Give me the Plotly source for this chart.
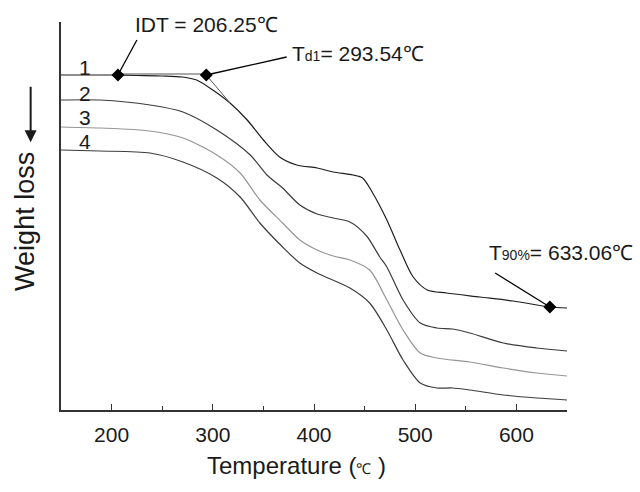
import plotly.graph_objects as go

# ---- data (temperature in °C, relative weight in arbitrary units; curves offset) ----
t1 = [150, 200, 225, 250, 270, 284, 300, 317, 334, 350, 366, 383, 403, 419, 438.5, 448,
      458, 472, 485, 498, 512, 531, 564, 597, 633, 650]
w1 = [335, 335, 334.5, 334, 333, 330, 320, 307, 290, 270, 253, 245, 242, 238, 235, 232,
      217, 190, 160, 133, 120, 117, 113, 109, 103, 102]

t2 = [150, 188.5, 238, 270.5, 304, 337, 353.5, 369, 386, 403, 419, 435.5, 452, 465, 472,
      488, 505, 521.5, 537, 554, 587, 620, 650]
w2 = [310, 310, 305, 298, 280, 255, 235, 222, 205, 196, 192, 188, 174, 153, 143,
      110, 87, 82, 81, 77, 67, 62, 59]

t3 = [150, 188.5, 238, 270.5, 304, 327, 346.5, 369, 386, 403, 419, 435.5, 455, 472, 488,
      505, 521.5, 554, 587, 620, 650]
w3 = [283, 282, 279, 272, 255, 237, 210, 187, 170, 160, 154, 150, 140, 110, 80,
      57, 52, 48, 42, 37, 34]

t4 = [150, 188.5, 238, 270.5, 304, 327, 346.5, 369, 386, 403, 435.5, 455, 472, 488, 505,
      521.5, 537, 554, 587, 620, 650]
w4 = [260, 259, 257, 248, 232, 213, 187, 163, 147, 137, 122, 107, 80, 50, 27,
      22, 22, 20, 15, 12, 10]

curve_labels = ["1", "2", "3", "4"]
curve_colors = ["#1e1e1e", "#3c3c3c", "#959595", "#3c3c3c"]

idt_t, idt_w = 206.25, 335
td1_t, td1_w = 293.54, 335
t90_t, t90_w = 633.06, 103
tangent_end = (317, 307)

xticks = [200, 300, 400, 500, 600]

FONT = "Liberation Sans, Arial, Helvetica, sans-serif"

fig = go.Figure()
for t, w, c, name in zip([t1, t2, t3, t4], [w1, w2, w3, w4], curve_colors, curve_labels):
    fig.add_trace(go.Scatter(x=t, y=w, mode="lines", name=name,
                             line=dict(color=c, width=1.2, shape="spline", smoothing=0.8),
                             showlegend=False))

# tangent construction lines
fig.add_trace(go.Scatter(x=[idt_t, td1_t], y=[idt_w + 1, td1_w + 1], mode="lines",
                         line=dict(color="#555555", width=1), showlegend=False))
fig.add_trace(go.Scatter(x=[td1_t, tangent_end[0]], y=[td1_w, tangent_end[1]], mode="lines",
                         line=dict(color="#555555", width=1), showlegend=False))

# marker points
fig.add_trace(go.Scatter(x=[idt_t, td1_t, t90_t], y=[idt_w, td1_w, t90_w], mode="markers",
                         marker=dict(symbol="diamond", size=10, color="black"),
                         showlegend=False))

# leader lines
leaders = [((225, 370), (idt_t, idt_w)), ((373, 353), (td1_t, td1_w)), ((579, 137), (t90_t, t90_w))]
for (x0, y0), (x1, y1) in leaders:
    fig.add_shape(type="line", x0=x0, y0=y0, x1=x1, y1=y1, xref="x", yref="y",
                  line=dict(color="black", width=1.3))

anns = []
anns.append(dict(x=294, y=386, xref="x", yref="y", text="IDT = 206.25℃", showarrow=False,
                 font=dict(size=21, color="#1a1a1a", family=FONT), xanchor="center", yanchor="middle"))
anns.append(dict(x=376, y=357, xref="x", yref="y",
                 text="T<span style='font-size:14px'>d1</span>= 293.54℃", showarrow=False,
                 font=dict(size=21, color="#1a1a1a", family=FONT), xanchor="left", yanchor="middle"))
anns.append(dict(x=571, y=158, xref="x", yref="y",
                 text="T<span style='font-size:14px'>90%</span>= 633.06℃", showarrow=False,
                 font=dict(size=21, color="#1a1a1a", family=FONT), xanchor="left", yanchor="middle"))
for lab, yv in zip(curve_labels, [343, 317, 293, 269]):
    anns.append(dict(x=174, y=yv, xref="x", yref="y", text=lab, showarrow=False,
                     font=dict(size=21, color="#1a1a1a", family=FONT), xanchor="center", yanchor="middle"))

# axis titles
anns.append(dict(x=0.466, y=-0.142, xref="paper", yref="paper",
                 text="Temperature (<span style='font-size:15px'>℃</span> )", showarrow=False,
                 font=dict(size=24, color="#1a1a1a", family=FONT), xanchor="center", yanchor="middle"))
anns.append(dict(x=-0.071, y=0.485, xref="paper", yref="paper", text="Weight loss",
                 textangle=-90, showarrow=False,
                 font=dict(size=27, color="#1a1a1a", family=FONT), xanchor="center", yanchor="middle"))
# down arrow
anns.append(dict(x=-0.06, y=0.69, xref="paper", yref="paper", text="", showarrow=True,
                 ax=0, ay=-57, arrowhead=2, arrowsize=1.2, arrowwidth=2, arrowcolor="#1a1a1a"))

fig.update_layout(
    width=640, height=492,
    margin=dict(l=61, r=73, t=22, b=82),
    plot_bgcolor="white", paper_bgcolor="white",
    annotations=anns,
    font=dict(family=FONT, color="#1a1a1a"),
)
fig.update_xaxes(range=[150, 650], tickvals=xticks, ticks="inside", ticklen=6, tickwidth=1.3,
                 tickcolor="#333", showline=True, linecolor="#333", linewidth=1.6,
                 showgrid=False, zeroline=False, tickfont=dict(size=21, family=FONT, color="#1a1a1a"),
                 ticklabelstandoff=5,
                 minor=dict(ticks="inside", ticklen=4, tickwidth=1.3, tickcolor="#333", dtick=50, tick0=150))
fig.update_yaxes(range=[0, 388], showline=True, linecolor="#333", linewidth=1.6,
                 showticklabels=False, ticks="", showgrid=False, zeroline=False)

fig.write_html("out.html")
